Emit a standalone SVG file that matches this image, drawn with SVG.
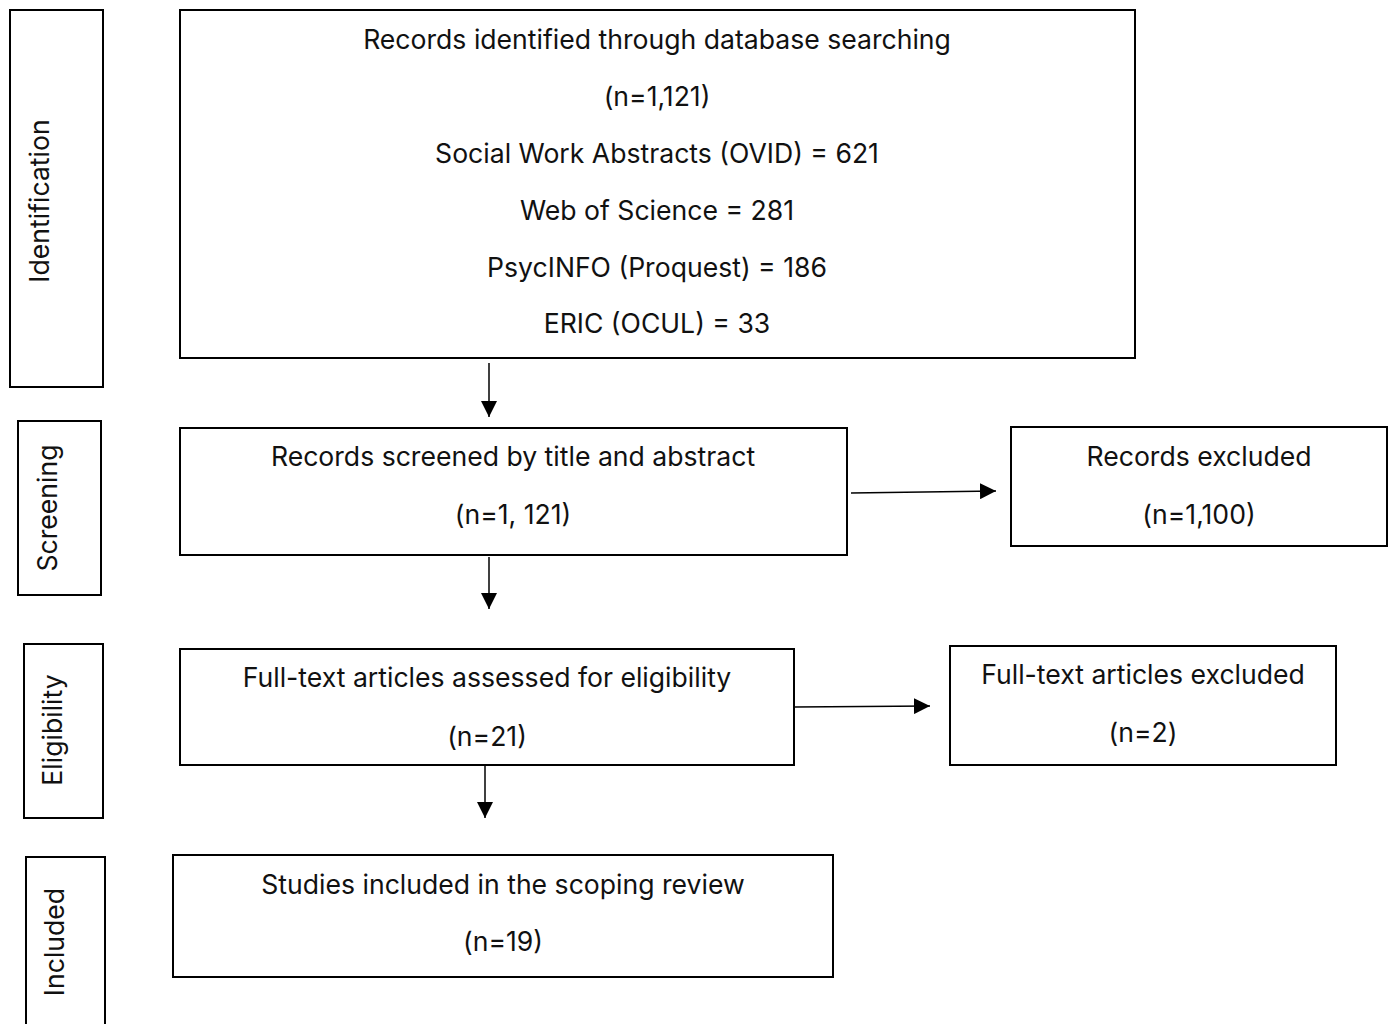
<svg xmlns="http://www.w3.org/2000/svg" width="1390" height="1024" viewBox="0 0 1390 1024">
<defs>
<marker id="ah2" viewBox="0 0 16 16" refX="16" refY="8" markerWidth="16" markerHeight="16" orient="auto" markerUnits="userSpaceOnUse">
<path d="M0,0 L16,8 L0,16 Z" fill="#000"/>
</marker>
</defs>
<style>
rect{fill:#fff;stroke:#000;stroke-width:2}
text{font-family:Inter,"Liberation Sans",Arial,sans-serif;font-size:26.6px;fill:#111;text-anchor:middle}
.c{stroke:#000;stroke-width:1.5;fill:none;marker-end:url(#ah2)}
</style>
<rect x="0" y="0" width="1390" height="1024" style="fill:#fff;stroke:none"/>
<g id="stage-identification"><rect x="10" y="10" width="93" height="377"/><text transform="translate(49,201) rotate(-90)">Identification</text></g>
<g id="stage-screening"><rect x="18" y="421" width="83" height="174"/><text transform="translate(57,508) rotate(-90)">Screening</text></g>
<g id="stage-eligibility"><rect x="24" y="644" width="79" height="174"/><text transform="translate(62,730) rotate(-90)">Eligibility</text></g>
<g id="stage-included"><rect x="26" y="857" width="79" height="180"/><text transform="translate(64,942) rotate(-90)">Included</text></g>
<g id="identified"><rect x="180" y="10" width="955" height="348"/>
<text x="657" y="49">Records identified through database searching</text>
<text x="657" y="106">(n=1,121)</text>
<text x="657" y="163">Social Work Abstracts (OVID) = 621</text>
<text x="657" y="220">Web of Science = 281</text>
<text x="657" y="277">PsycINFO (Proquest) = 186</text>
<text x="657" y="333">ERIC (OCUL) = 33</text></g>
<g id="screened"><rect x="180" y="428" width="667" height="127"/>
<text x="513" y="466">Records screened by title and abstract</text>
<text x="513" y="524">(n=1, 121)</text></g>
<g id="excluded1"><rect x="1011" y="427" width="376" height="119"/>
<text x="1199" y="466">Records excluded</text>
<text x="1199" y="524">(n=1,100)</text></g>
<g id="fulltext"><rect x="180" y="649" width="614" height="116"/>
<text x="487" y="687">Full-text articles assessed for eligibility</text>
<text x="487" y="746">(n=21)</text></g>
<g id="excluded2"><rect x="950" y="646" width="386" height="119"/>
<text x="1143" y="684">Full-text articles excluded</text>
<text x="1143" y="742">(n=2)</text></g>
<g id="included"><rect x="173" y="855" width="660" height="122"/>
<text x="503" y="894">Studies included in the scoping review</text>
<text x="503" y="951">(n=19)</text></g>
<g id="connectors">
<line class="c" x1="489" y1="363" x2="489" y2="417"/>
<line class="c" x1="489" y1="557" x2="489" y2="609"/>
<line class="c" x1="485" y1="766" x2="485" y2="818"/>
<line class="c" x1="851" y1="493" x2="996" y2="491"/>
<line class="c" x1="795" y1="707" x2="930" y2="706"/>
</g>
</svg>
